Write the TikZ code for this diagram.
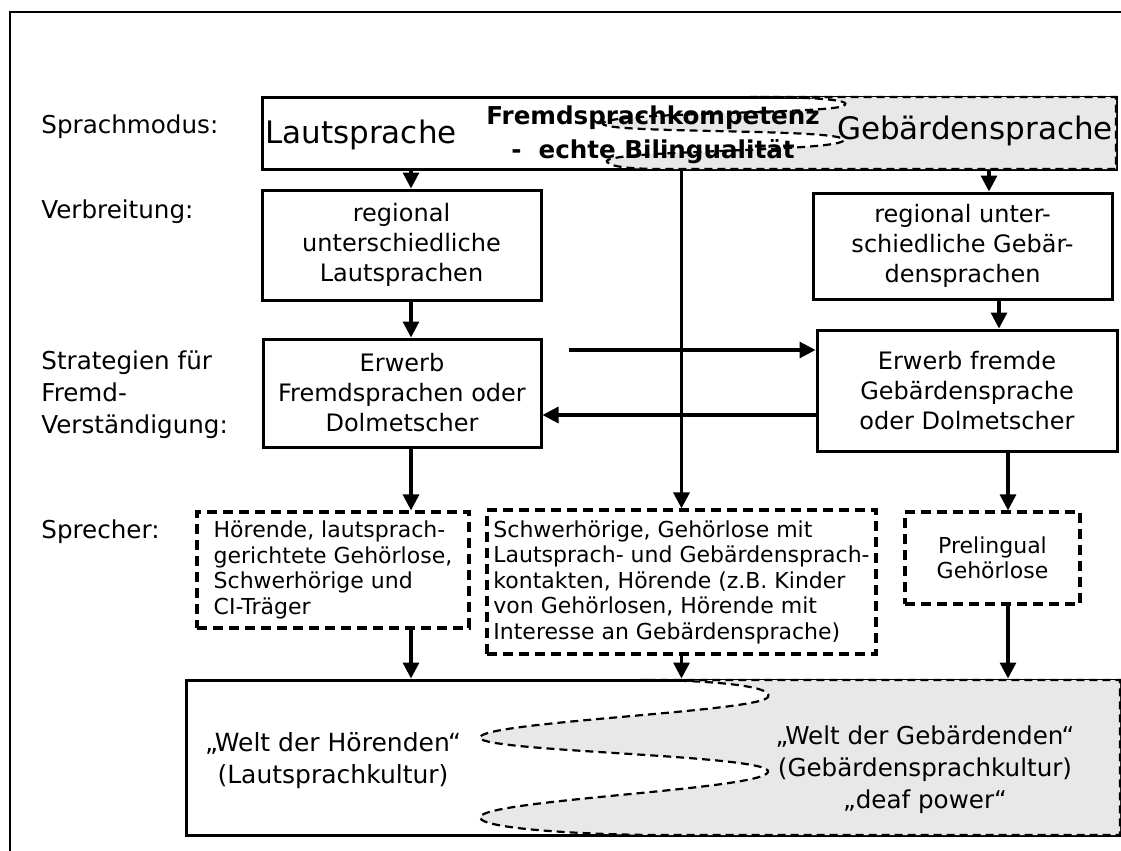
\documentclass[tikz,border=0pt]{standalone}
\usepackage{fontspec}
\setmainfont{DejaVu Sans}
\usetikzlibrary{arrows.meta}
\tikzset{>={Triangle[length=8pt,width=8pt]},
  kasten/.style={draw,line width=1.5pt,align=center,inner sep=0pt,font=\fontsize{12}{15}\selectfont},
  strich/.style={draw,line width=1.6pt,dash pattern=on 5pt off 3pt,align=left,inner sep=0pt,font=\fontsize{11}{12.75}\selectfont},
  marke/.style={anchor=west,align=left,inner sep=0pt,font=\fontsize{12.3}{16}\selectfont},
  pfeil/.style={->,line width=1.6pt},
  welle/.style={line width=1.1pt,dash pattern=on 4pt off 2.5pt},
  grau/.style={fill=black!9}}

\begin{document}
\begin{tikzpicture}[x=0.5pt,y=-0.5pt]
\useasboundingbox (0,0) rectangle (1121,851);
\draw[line width=1.3pt] (10,851) -- (10,12) -- (1121,12);

% Zeilenbeschriftung
\node[marke] (modusT) at (41,127) {Sprachmodus:};
\node[marke] (verbrT) at (41,212) {Verbreitung:};
\node[marke] (stratT) at (41,395) {Strategien für\\Fremd-\\Verständigung:};
\node[marke] (sprT) at (41,532) {Sprecher:};

% Sprachmodus
\node[kasten,minimum width=427pt,minimum height=36pt] (modus) at (689,133) {};
\path[grau] (750,97) .. controls (800,97) and (858,99) .. (843,106)
  .. controls (825,114) and (598,112) .. (603,124)
  .. controls (608,134) and (858,128) .. (843,141)
  .. controls (830,152) and (598,150) .. (607,162)
  .. controls (612,168) and (640,169) .. (665,169)
  -- (1116,169) -- (1116,97) -- cycle;
\node[font=\fontsize{15.5}{18}\selectfont] (laut) at (361,135) {Lautsprache};
\node[font=\fontsize{15.5}{18}\selectfont] (gebaerde) at (975,131) {Gebärdensprache};
\node[font=\fontsize{12.3}{17}\selectfont\bfseries,align=center] (fremd) at (653,135) {Fremdsprachkompetenz\\-~ echte Bilingualität};
\draw[welle] (750,97) .. controls (800,97) and (858,99) .. (843,106)
  .. controls (825,114) and (598,112) .. (603,124)
  .. controls (608,134) and (858,128) .. (843,141)
  .. controls (830,152) and (598,150) .. (607,162)
  .. controls (612,168) and (640,169) .. (665,169)
  -- (1116,169) -- (1116,97) -- cycle;

% Verbreitung und Strategien
\node[kasten,minimum width=139.5pt,minimum height=55pt] (verbrL) at (401.5,245) {regional\\unterschiedliche\\Lautsprachen};
\node[kasten,minimum width=149.5pt,minimum height=53pt] (verbrR) at (962.5,246) {regional unter-\\schiedliche Gebär-\\densprachen};
\node[kasten,minimum width=139pt,minimum height=54pt] (stratL) at (402,393) {Erwerb\\Fremdsprachen oder\\Dolmetscher};
\node[kasten,minimum width=150pt,minimum height=60.5pt] (stratR) at (967,390.5) {Erwerb fremde\\Gebärdensprache\\oder Dolmetscher};

% Sprecher
\node[strich,minimum width=136pt,minimum height=58pt] (sprL) at (333,570) {Hörende, lautsprach-\\gerichtete Gehörlose,\\Schwerhörige und\\CI-Träger};
\node[strich,minimum width=194.5pt,minimum height=72pt] (sprM) at (681.5,582) {Schwerhörige, Gehörlose mit\\Lautsprach- und Gebärdensprach-\\kontakten, Hörende (z.B. Kinder\\von Gehörlosen, Hörende mit\\Interesse an Gebärdensprache)};
\node[strich,align=center,minimum width=87.5pt,minimum height=46pt] (sprR) at (992.5,558) {Prelingual\\Gehörlose};

% Welten
\node[kasten,minimum width=467pt,minimum height=77.5pt] (welt) at (653,757.5) {};
\path[grau] (640,680) .. controls (700,680) and (775,685) .. (768,697)
  .. controls (760,712) and (475,722) .. (480,738)
  .. controls (485,752) and (775,755) .. (768,772)
  .. controls (763,790) and (475,800) .. (480,818)
  .. controls (485,830) and (600,835) .. (660,835)
  -- (1120,835) -- (1120,680) -- cycle;
\draw[welle] (640,680) .. controls (700,680) and (775,685) .. (768,697)
  .. controls (760,712) and (475,722) .. (480,738)
  .. controls (485,752) and (775,755) .. (768,772)
  .. controls (763,790) and (475,800) .. (480,818)
  .. controls (485,830) and (600,835) .. (660,835)
  -- (1120,835) -- (1120,680) -- cycle;
\node[align=center,font=\fontsize{12.5}{16}\selectfont] (hoerend) at (333,761) {„Welt der Hörenden“\\(Lautsprachkultur)};
\node[align=center,font=\fontsize{12.3}{16}\selectfont] (gebaerdend) at (925,770) {„Welt der Gebärdenden“\\(Gebärdensprachkultur)\\„deaf power“};

% Pfeile
\coordinate (sL) at (411,0);
\coordinate (r1) at (989,0);
\coordinate (r2) at (999,0);
\coordinate (r3) at (1008,0);
\coordinate (hoch) at (0,350);
\coordinate (tief) at (0,415);
\path[pfeil] (modus.south -| sL) edge (verbrL.north -| sL);
\path[pfeil] (verbrL.south -| sL) edge (stratL.north -| sL);
\path[pfeil] (stratL.south -| sL) edge (sprL.north -| sL);
\path[pfeil] (sprL.south -| sL) edge (welt.north -| sL);
\path[pfeil] (modus.south -| r1) edge (verbrR.north -| r1);
\path[pfeil] (verbrR.south -| r2) edge (stratR.north -| r2);
\path[pfeil] (stratR.south -| r3) edge (sprR.north -| r3);
\path[pfeil] (sprR.south -| r3) edge (welt.north -| r3);
\path[pfeil] (modus.south -| sprM.north) edge (sprM.north);
\path[pfeil] (sprM.south) edge (welt.north -| sprM.south);
\path[pfeil,shorten <=13pt] (stratL.east |- hoch) edge (stratR.west |- hoch);
\path[pfeil] (stratR.west |- tief) edge (stratL.east |- tief);

\end{tikzpicture}
\end{document}
